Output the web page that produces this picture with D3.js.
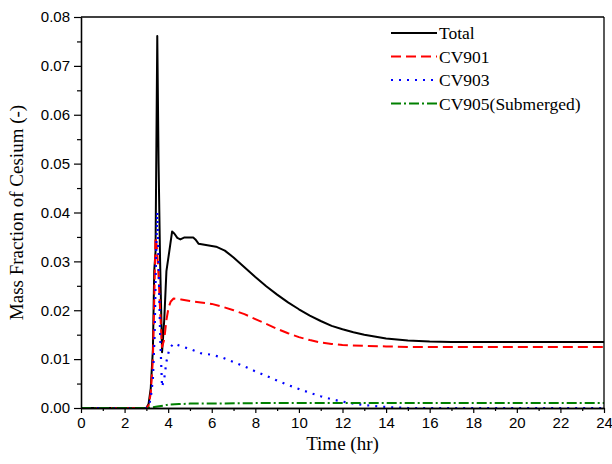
<!DOCTYPE html>
<html><head><meta charset="utf-8">
<script src="https://cdn.jsdelivr.net/npm/d3@7"></script>
<style>body{margin:0;background:#fff}svg{display:block}</style>
</head><body>
<svg id="c" width="612" height="464"></svg>
<script>
const xTicks = [0,2,4,6,8,10,12,14,16,18,20,22,24];
const yTicks = [0,0.01,0.02,0.03,0.04,0.05,0.06,0.07,0.08];
const seriesNames = ["Total","CV901","CV903","CV905(Submerged)"];

const totalT = [0,3.0,3.1,3.2,3.3,3.36,3.42,3.5,3.56,3.63,3.72,3.82,3.92,4.05,4.18,4.28,4.42,4.56,4.75,5.0,5.15,5.25,5.4,5.8,6.2,6.6,7.0,7.5,8.0,8.5,9.0,9.5,10,10.5,11,11.5,12,12.5,13,14,15,16,17,18,20,22,24];
const totalV = [0,0,0.0008,0.004,0.012,0.028,0.032,0.0761,0.05,0.03,0.0114,0.018,0.028,0.032,0.0361,0.0357,0.0348,0.0345,0.0349,0.0349,0.0349,0.0345,0.0336,0.0333,0.0330,0.0322,0.0308,0.0288,0.0268,0.0249,0.0232,0.0216,0.0202,0.0189,0.0178,0.0168,0.0161,0.0155,0.0150,0.0142,0.0138,0.0136,0.0135,0.0135,0.0135,0.0135,0.0135];

const cv901T = [0,3.0,3.1,3.2,3.3,3.36,3.42,3.48,3.56,3.63,3.72,3.82,3.92,4.02,4.12,4.25,4.6,5.0,5.5,6.0,6.5,7.0,7.5,8.0,8.5,9.0,9.5,10,10.5,11,11.5,12,13,14,15,16,18,20,22,24];
const cv901V = [0,0,0.0005,0.003,0.010,0.022,0.035,0.033,0.027,0.020,0.0125,0.014,0.018,0.0206,0.0218,0.0224,0.0222,0.0219,0.0216,0.0213,0.0207,0.0200,0.0192,0.0182,0.0172,0.0162,0.0153,0.0145,0.0139,0.0134,0.0131,0.0129,0.0127,0.0126,0.0125,0.0125,0.0125,0.0125,0.0125,0.0125];

const cv903T = [0,3.0,3.1,3.2,3.3,3.38,3.44,3.5,3.56,3.63,3.72,3.82,3.92,4.06,4.25,4.5,5.1,5.5,6.0,6.5,7.0,7.5,8.0,8.5,9.0,9.5,10,10.5,11,11.5,12,12.5,13,13.5,14,14.5,15,24];
const cv903V = [0,0,0.0003,0.002,0.006,0.015,0.030,0.0401,0.030,0.015,0.0043,0.006,0.0095,0.0122,0.0132,0.0128,0.0119,0.0112,0.0109,0.0103,0.0094,0.0085,0.0075,0.0066,0.0056,0.0047,0.0039,0.0031,0.0024,0.0018,0.0013,0.0009,0.0006,0.0004,0.0002,0.0001,0,0];

const cv905T = [0,3.0,3.2,3.5,3.8,4.0,4.5,5.0,6.0,8.0,24];
const cv905V = [0,0,0.0001,0.0003,0.0005,0.0007,0.0008,0.0009,0.0009,0.0010,0.0010];

const colors = ["#000000","#ff0000","#0000ff","#008000"];
const dashes = [null,"10,5","2,6","10,3,2,3"];
const widths = [2,2,2.2,2];

const svg = d3.select("#c");
const L = 81, R = 604, T = 17, B = 408;
const x = d3.scaleLinear().domain([0,24]).range([L,R]);
const y = d3.scaleLinear().domain([0,0.08]).range([B,T]);

svg.append("defs").append("clipPath").attr("id","clip")
  .append("rect").attr("x",L).attr("y",T-1).attr("width",R-L).attr("height",B-T+1);

const data = [
  totalT.map((t,i)=>[t,totalV[i]]),
  cv901T.map((t,i)=>[t,cv901V[i]]),
  cv903T.map((t,i)=>[t,cv903V[i]]),
  cv905T.map((t,i)=>[t,cv905V[i]])
];
const line = d3.line().x(d=>x(d[0])).y(d=>y(d[1]));
const g = svg.append("g").attr("clip-path","url(#clip)");
data.forEach((d,i)=>{
  g.append("path").attr("d",line(d)).attr("fill","none")
    .attr("stroke",colors[i]).attr("stroke-width",widths[i])
    .attr("stroke-dasharray",dashes[i]).attr("stroke-linejoin","round");
});

// axes
const xAxis = d3.axisBottom(x).tickValues(xTicks).tickSize(5).tickSizeOuter(0).tickPadding(4).tickFormat(d3.format("d"));
const xMinor = d3.axisBottom(x).tickValues(d3.range(1,24,2)).tickSize(3).tickSizeOuter(0).tickFormat("");
const yAxis = d3.axisLeft(y).tickValues(yTicks).tickSize(7).tickSizeOuter(0).tickPadding(4).tickFormat(d3.format(".2f"));
const yMinor = d3.axisLeft(y).tickValues(d3.range(0.005,0.08,0.01)).tickSize(4).tickSizeOuter(0).tickFormat("");

function style(sel){
  sel.selectAll("path").attr("stroke","#000").attr("stroke-width",1.3);
  sel.selectAll("line").attr("stroke","#000").attr("stroke-width",1.2);
  sel.selectAll("text").attr("font-family","'Liberation Sans', Arial, sans-serif").attr("font-size",15).attr("fill","#000");
}
svg.append("g").attr("transform",`translate(0,${B})`).call(xMinor).call(style);
svg.append("g").attr("transform",`translate(0,${B})`).call(xAxis).call(style);
svg.append("g").attr("transform",`translate(${L},0)`).call(yMinor).call(style);
svg.append("g").attr("transform",`translate(${L},0)`).call(yAxis).call(style);
// frame top and right
svg.append("line").attr("x1",L).attr("x2",R).attr("y1",T).attr("y2",T).attr("stroke","#000").attr("stroke-width",1.3);
svg.append("line").attr("x1",R).attr("x2",R).attr("y1",T).attr("y2",B).attr("stroke","#000").attr("stroke-width",1.3);

// titles
svg.append("text").attr("x",(L+R)/2).attr("y",450).attr("text-anchor","middle")
  .attr("font-family","'Liberation Serif','Times New Roman',serif").attr("font-size",19).text("Time (hr)");
svg.append("text").attr("transform",`translate(23,${(T+B)/2}) rotate(-90)`).attr("text-anchor","middle")
  .attr("font-family","'Liberation Serif','Times New Roman',serif").attr("font-size",19).text("Mass Fraction of Cesium (-)");

// legend
const leg = svg.append("g");
seriesNames.forEach((n,i)=>{
  const yy = 33 + i*23.5;
  leg.append("line").attr("x1",391).attr("x2",437).attr("y1",yy).attr("y2",yy)
    .attr("stroke",colors[i]).attr("stroke-width",widths[i]).attr("stroke-dasharray",dashes[i]);
  leg.append("text").attr("x",439).attr("y",yy+6).attr("font-family","'Liberation Serif','Times New Roman',serif")
    .attr("font-size",17.5).text(n);
});
</script>
</body></html>
